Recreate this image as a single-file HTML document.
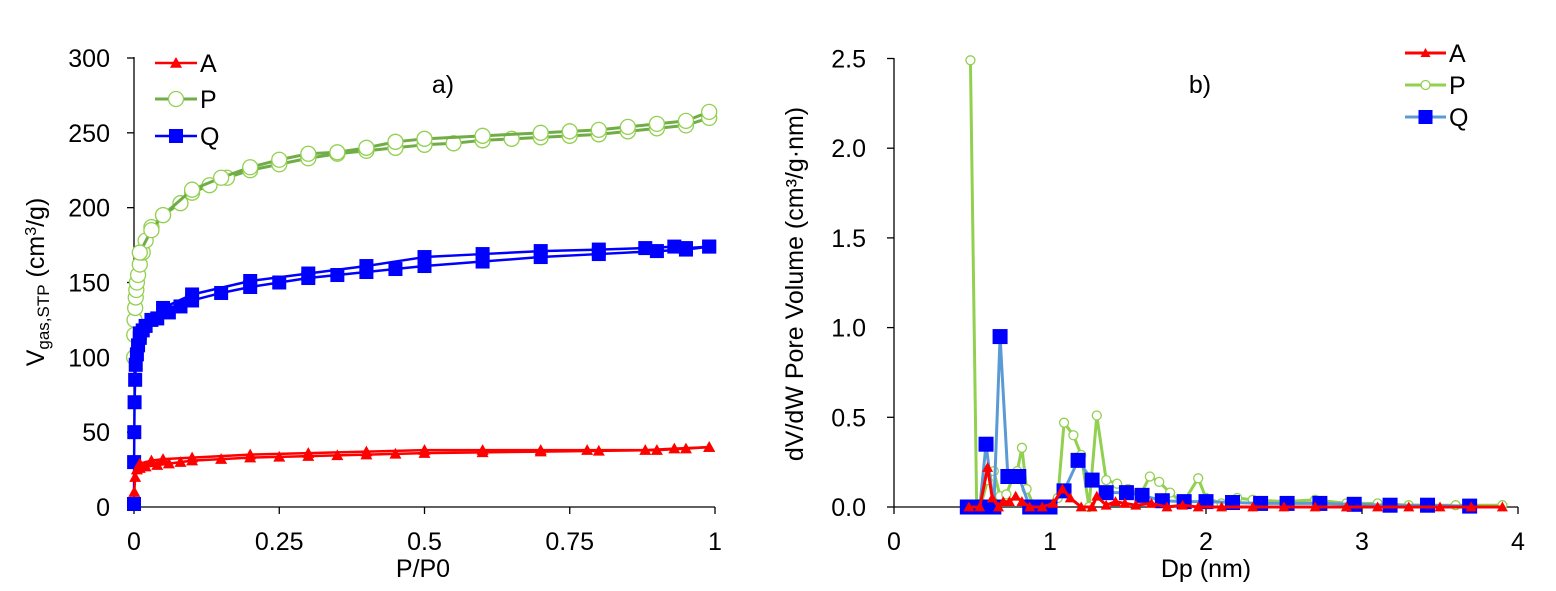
<!DOCTYPE html>
<html><head><meta charset="utf-8"><style>
html,body{margin:0;padding:0;background:#fff;}
svg{display:block;font-family:"Liberation Sans",Arial,sans-serif;}
</style></head><body>
<svg id="c" width="1556" height="591" viewBox="0 0 1556 591"></svg>
<script>
// ---- Chart a) isotherms ----
const aTicksX=[0,0.25,0.5,0.75,1];
const aTickLabelsX=["0","0.25","0.5","0.75","1"];
const aTicksY=[0,50,100,150,200,250,300];
const pAdsX=[0.0002,0.0005,0.001,0.002,0.003,0.004,0.005,0.007,0.01,0.015,0.02,0.03,0.05,0.08,0.1,0.13,0.16,0.2,0.25,0.3,0.35,0.4,0.45,0.5,0.55,0.6,0.65,0.7,0.75,0.8,0.85,0.9,0.95,0.99];
const pAdsY=[100,115,125,133,140,145,150,155,162,170,178,187,195,203,210,215,220,225,229,233,236,238,240,242,243,245,246,247,248,249,251,253,255,260];
const pDesX=[0.99,0.95,0.9,0.85,0.8,0.75,0.7,0.6,0.5,0.45,0.4,0.35,0.3,0.25,0.2,0.15,0.1,0.05,0.03,0.01];
const pDesY=[264,258,256,254,252,251,250,248,246,244,240,237,236,232,227,220,212,195,185,170];
const qAdsX=[0,0.0002,0.0005,0.001,0.002,0.003,0.005,0.007,0.01,0.015,0.02,0.04,0.06,0.08,0.1,0.15,0.2,0.25,0.3,0.35,0.4,0.45,0.5,0.6,0.7,0.8,0.9,0.95,0.99];
const qAdsY=[2,30,50,70,85,95,102,108,113,118,121,126,130,134,138,143,147,150,153,155,157,159,161,164,167,169,171,172,174];
const qDesX=[0.99,0.95,0.93,0.88,0.8,0.7,0.6,0.5,0.4,0.3,0.2,0.1,0.05,0.03,0.01];
const qDesY=[174,173,174,173,172,171,169,167,161,156,151,142,133,125,116];
const aAdsX=[0.0005,0.002,0.005,0.01,0.02,0.04,0.06,0.08,0.1,0.15,0.2,0.25,0.3,0.35,0.4,0.45,0.5,0.6,0.7,0.8,0.9,0.95,0.99];
const aAdsY=[10,20,25,26,27,28,29,30,31,32,33,33.5,34,34.5,35,35.5,36,36.5,37,37.5,38,39,40];
const aDesX=[0.99,0.93,0.88,0.78,0.7,0.6,0.5,0.4,0.3,0.2,0.1,0.05,0.03,0.01];
const aDesY=[40,39,38,38,38,38,38,37,36,35,33,32,31,29];
// ---- Chart b) PSD ----
const bTicksX=[0,1,2,3,4];
const bTicksY=[0,0.5,1.0,1.5,2.0,2.5];
const bTickLabelsY=["0.0","0.5","1.0","1.5","2.0","2.5"];
const psdPX=[0.49,0.53,0.56,0.6,0.64,0.68,0.72,0.76,0.79,0.82,0.85,0.9,1.0,1.05,1.09,1.15,1.2,1.25,1.3,1.36,1.43,1.5,1.58,1.64,1.7,1.77,1.85,1.95,2.0,2.1,2.2,2.3,2.5,2.7,2.9,3.1,3.3,3.6,3.9];
const psdPY=[2.49,0,0.02,0.15,0.2,0.06,0.07,0.16,0.2,0.33,0.1,0,0,0.05,0.47,0.4,0.29,0,0.51,0.15,0.13,0.1,0.07,0.17,0.14,0.08,0.02,0.16,0.05,0.02,0.05,0.04,0.03,0.04,0.02,0.02,0.01,0.01,0.01];
const psdQX=[0.47,0.55,0.59,0.64,0.68,0.73,0.8,0.87,0.94,1.0,1.09,1.18,1.27,1.36,1.49,1.59,1.72,1.86,2.0,2.17,2.35,2.52,2.73,2.95,3.18,3.42,3.69];
const psdQY=[0,0,0.35,0,0.95,0.17,0.17,0,0,0,0.09,0.26,0.15,0.08,0.08,0.065,0.035,0.03,0.03,0.025,0.02,0.02,0.02,0.015,0.01,0.01,0.005];
const psdAX=[0.48,0.55,0.6,0.63,0.67,0.7,0.74,0.78,0.82,0.87,0.95,1.02,1.08,1.13,1.2,1.27,1.3,1.36,1.42,1.48,1.55,1.65,1.75,1.85,1.95,2.1,2.3,2.5,2.7,2.9,3.1,3.3,3.5,3.7,3.9];
const psdAY=[0,0,0.22,0.05,0,0.03,0.03,0.06,0.03,0,0,0.02,0.1,0.05,0,0,0.06,0.01,0.03,0.02,0.01,0.02,0,0.01,0,0,0,0,0,0,0,0,0,0,0];

const NS="http://www.w3.org/2000/svg";
const svg=document.getElementById('c');
function el(tag,attrs,parent){const e=document.createElementNS(NS,tag);for(const k in attrs)e.setAttribute(k,attrs[k]);(parent||svg).appendChild(e);return e;}
function txt(s,attrs,parent){const t=el('text',attrs,parent);t.textContent=s;return t;}
const FS=25;

const ax=v=>134+v*581, ay=v=>507-v*449/300;
const bx=v=>894+v*156, by=v=>507-v*179.4;

function marker(g,type,x,y,color,size){
  let m;
  if(type==='tri'){const s=size;m=el('polygon',{points:`${x},${y-s} ${x-s},${y+s*0.8} ${x+s},${y+s*0.8}`,fill:color},g);}
  else if(type==='circ'){m=el('circle',{cx:x,cy:y,r:size,fill:'#fff',stroke:'#92d050','stroke-width':1.3},g);}
  else {m=el('rect',{x:x-size,y:y-size,width:size*2,height:size*2,fill:color},g);}
  
  
}
function series(name,xs,ys,sx,sy,lineColor,lw,mtype,mcolor,msize){
  const g=el('g',{},svg);
  
  
  const pts=xs.map((x,i)=>sx(x)+','+sy(ys[i])).join(' ');
  el('polyline',{points:pts,fill:'none',stroke:lineColor,'stroke-width':lw,'stroke-linejoin':'round'},g);
  xs.forEach((x,i)=>marker(g,mtype,sx(x),sy(ys[i]),mcolor,msize));
}

// ---- axes a ----
const ga=el('g',{},svg);

el('line',{x1:134,y1:57,x2:134,y2:507,stroke:'#000','stroke-width':1.3},ga);
el('line',{x1:134,y1:507,x2:715,y2:507,stroke:'#000','stroke-width':1.3},ga);
aTicksY.forEach(v=>{el('line',{x1:127,y1:ay(v),x2:134,y2:ay(v),stroke:'#000','stroke-width':1.3},ga);
  const t=txt(String(v),{x:110,y:ay(v)+9,'font-size':FS,'text-anchor':'end'},ga);});
aTicksX.forEach((v,i)=>{el('line',{x1:ax(v),y1:507,x2:ax(v),y2:514,stroke:'#000','stroke-width':1.3},ga);
  const t=txt(aTickLabelsX[i],{x:ax(v),y:550,'font-size':FS,'text-anchor':'middle'},ga);});
const xa=txt('P/P0',{x:423,y:577,'font-size':FS,'text-anchor':'middle'});

const ya=el('text',{transform:'translate(44,282) rotate(-90)','font-size':FS,'text-anchor':'middle'});

ya.innerHTML='V<tspan font-size="17" dy="5">gas,STP</tspan><tspan dy="-5"> (cm</tspan><tspan font-size="16" dy="-8">3</tspan><tspan dy="8">/g)</tspan>';
const ta=txt('a)',{x:443,y:93,'font-size':FS,'text-anchor':'middle'});


series('series-p-adsorption',pAdsX,pAdsY,ax,ay,'#70ad47',3,'circ','#92d050',7.5);
series('series-p-desorption',pDesX,pDesY,ax,ay,'#70ad47',3,'circ','#92d050',7.5);
series('series-q-adsorption',qAdsX,qAdsY,ax,ay,'#0000ff',2.5,'sq','#0000ff',7);
series('series-q-desorption',qDesX,qDesY,ax,ay,'#0000ff',2.5,'sq','#0000ff',7);
series('series-a-adsorption',aAdsX,aAdsY,ax,ay,'#ff0000',2.5,'tri','#ff0000',6);
series('series-a-desorption',aDesX,aDesY,ax,ay,'#ff0000',2.5,'tri','#ff0000',6);

function legendEntry(x,y,label,color,lw,mtype,mcolor,ms,name,lenL){
  const g=el('g',{},svg);
  
  el('line',{x1:x,y1:y,x2:x+lenL,y2:y,stroke:color,'stroke-width':lw},g);
  marker(g,mtype,x+lenL/2,y,mcolor,ms);
  txt(label,{x:x+lenL+3,y:y+9,'font-size':FS},g);
}
legendEntry(155,63,'A','#ff0000',2.5,'tri','#ff0000',6,'legend-entry-a',42);
legendEntry(155,99,'P','#70ad47',3,'circ','#92d050',7.5,'legend-entry-p',42);
legendEntry(155,136,'Q','#0000ff',2.5,'sq','#0000ff',7,'legend-entry-q',42);

// ---- axes b ----
const gb=el('g',{},svg);

el('line',{x1:894,y1:58,x2:894,y2:507,stroke:'#000','stroke-width':1.3},gb);
el('line',{x1:894,y1:507,x2:1518,y2:507,stroke:'#000','stroke-width':1.3},gb);
bTicksY.forEach((v,i)=>{el('line',{x1:887,y1:by(v),x2:894,y2:by(v),stroke:'#000','stroke-width':1.3},gb);
  const t=txt(bTickLabelsY[i],{x:866,y:by(v)+9,'font-size':FS,'text-anchor':'end'},gb);});
bTicksX.forEach(v=>{el('line',{x1:bx(v),y1:507,x2:bx(v),y2:514,stroke:'#000','stroke-width':1.3},gb);
  const t=txt(String(v),{x:bx(v),y:550,'font-size':FS,'text-anchor':'middle'},gb);});
const xb=txt('Dp (nm)',{x:1206,y:577,'font-size':FS,'text-anchor':'middle'});

const yb=el('text',{transform:'translate(803,284) rotate(-90)','font-size':FS,'text-anchor':'middle'});

yb.textContent='dV/dW Pore Volume (cm³/g·nm)';
const tb=txt('b)',{x:1200,y:93,'font-size':FS,'text-anchor':'middle'});


series('psd-series-p',psdPX,psdPY,bx,by,'#92d050',3,'circ','#92d050',4.5);
series('psd-series-q',psdQX,psdQY,bx,by,'#5b9bd5',3,'sq','#0000ff',7.5);
series('psd-series-a',psdAX,psdAY,bx,by,'#ff0000',3,'tri','#ff0000',5.5);

legendEntry(1405,53,'A','#ff0000',3,'tri','#ff0000',5,'legend-entry-a-b',41);
legendEntry(1405,85,'P','#92d050',3,'circ','#92d050',4.5,'legend-entry-p-b',41);
legendEntry(1405,117,'Q','#5b9bd5',3,'sq','#0000ff',7,'legend-entry-q-b',41);
</script>
</body></html>
